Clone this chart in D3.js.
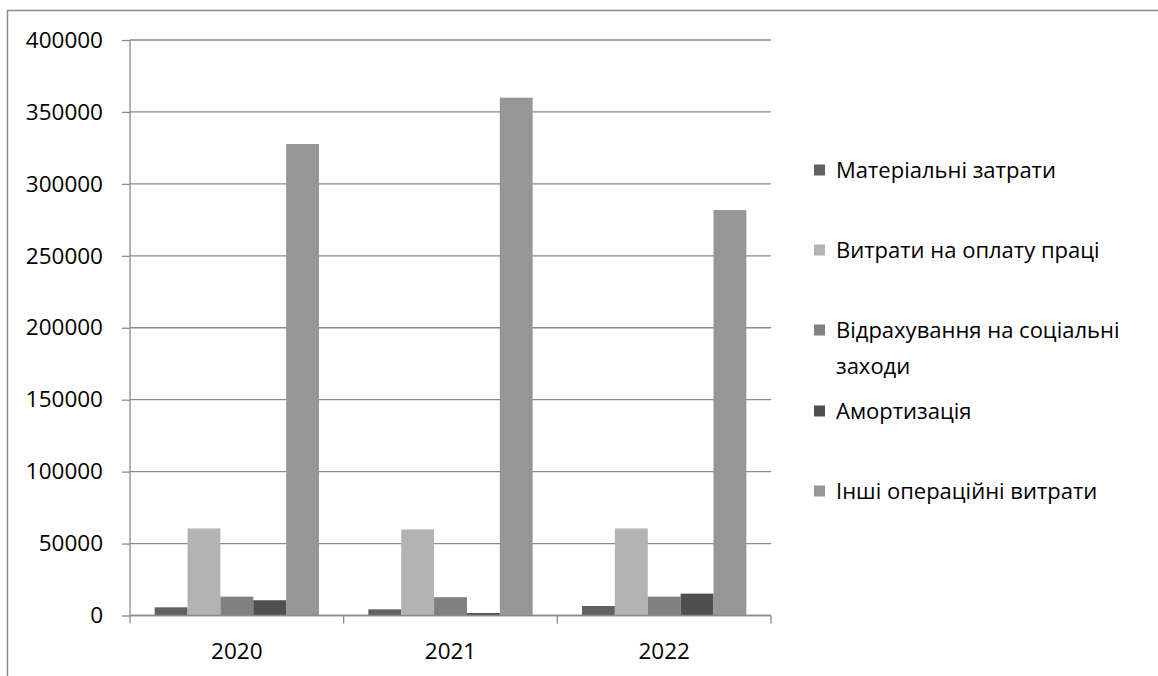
<!DOCTYPE html>
<html>
<head>
<meta charset="utf-8">
<script src="https://cdn.jsdelivr.net/npm/d3@7"></script>
<style>
  html, body { margin: 0; padding: 0; background: #fff; }
  svg { display: block; }
  text { font-family: "Open Sans", "Noto Sans", sans-serif; fill: #000; }
</style>
</head>
<body>
<svg id="chart" width="1158" height="676"></svg>
<script>
// Operating expenses by element, 2020–2022
const years = ["2020", "2021", "2022"];
const seriesNames = [
  "Матеріальні затрати",
  "Витрати на оплату праці",
  "Відрахування на соціальні заходи",
  "Амортизація",
  "Інші операційні витрати"
];
const materialCosts = [5700, 4300, 6600];
const laborCosts = [60500, 59800, 60500];
const socialCharges = [13100, 12700, 13100];
const depreciation = [10600, 1700, 15200];
const otherCosts = [327700, 359900, 281800];
const yTicks = [0, 50000, 100000, 150000, 200000, 250000, 300000, 350000, 400000];

const seriesValues = [materialCosts, laborCosts, socialCharges, depreciation, otherCosts];
const colors = ["#616161", "#b3b3b3", "#808080", "#4f4f4f", "#969696"];

const svg = d3.select("#chart");
const plot = { left: 130, right: 771, top: 40, bottom: 615.5 };
const lineColor = "#8a8a8a";

// outer frame
svg.append("rect")
  .attr("x", 7.5).attr("y", 10.5)
  .attr("width", 1200).attr("height", 700)
  .attr("fill", "none").attr("stroke", "#8c8c8c").attr("stroke-width", 1.5);

const x0 = d3.scaleBand().domain(years).range([plot.left, plot.right]).paddingInner(0).paddingOuter(0);
// gap width of 150% of a bar: bars take 5 / 6.5 of each category
const x1 = d3.scaleBand().domain(d3.range(seriesNames.length))
  .range([0, x0.bandwidth()]).paddingInner(0).paddingOuter(0.75);
const y = d3.scaleLinear().domain([0, 400000]).range([plot.bottom, plot.top]);

// gridlines
svg.append("g").selectAll("line").data(yTicks).join("line")
  .attr("x1", plot.left).attr("x2", plot.right)
  .attr("y1", d => y(d)).attr("y2", d => y(d))
  .attr("stroke", lineColor).attr("stroke-width", 1.3);

// bars
const groups = svg.append("g").selectAll("g").data(years).join("g")
  .attr("transform", d => `translate(${x0(d)},0)`);
groups.selectAll("rect")
  .data((yr, i) => seriesValues.map((vals, s) => ({ s, v: vals[i] })))
  .join("rect")
  .attr("x", d => x1(d.s))
  .attr("width", x1.bandwidth())
  .attr("y", d => y(d.v))
  .attr("height", d => y(0) - y(d.v))
  .attr("fill", d => colors[d.s]);

// y axis
const yAxis = d3.axisLeft(y).tickValues(yTicks).tickSize(8).tickPadding(19).tickFormat(d3.format("d"));
const gy = svg.append("g").attr("transform", `translate(${plot.left},0)`).call(yAxis);
gy.select(".domain").remove();
gy.selectAll(".tick line").attr("stroke", lineColor).attr("stroke-width", 1.3);
gy.selectAll(".tick text").attr("font-size", 22.5).attr("font-family", "'Open Sans', sans-serif").attr("fill", "#000");
svg.append("line")
  .attr("x1", plot.left).attr("x2", plot.left)
  .attr("y1", plot.top).attr("y2", plot.bottom + 8)
  .attr("stroke", lineColor).attr("stroke-width", 1.3);

// x axis
svg.append("line")
  .attr("x1", plot.left).attr("x2", plot.right)
  .attr("y1", plot.bottom).attr("y2", plot.bottom)
  .attr("stroke", lineColor).attr("stroke-width", 1.3);
const boundaries = years.map(d => x0(d) + x0.bandwidth());
svg.append("g").selectAll("line").data(boundaries).join("line")
  .attr("x1", d => d).attr("x2", d => d)
  .attr("y1", plot.bottom).attr("y2", plot.bottom + 8)
  .attr("stroke", lineColor).attr("stroke-width", 1.3);
svg.append("g").selectAll("text").data(years).join("text")
  .attr("x", d => x0(d) + x0.bandwidth() / 2)
  .attr("y", 659)
  .attr("text-anchor", "middle")
  .attr("font-size", 22.5)
  .text(d => d);

// legend
const legendItems = [
  { lines: ["Матеріальні затрати"], cy: 170 },
  { lines: ["Витрати на оплату праці"], cy: 250 },
  { lines: ["Відрахування на соціальні", "заходи"], cy: 330 },
  { lines: ["Амортизація"], cy: 411 },
  { lines: ["Інші операційні витрати"], cy: 491 }
];
const legend = svg.append("g");
legendItems.forEach((item, i) => {
  legend.append("rect")
    .attr("x", 814).attr("y", item.cy - 5.5)
    .attr("width", 11).attr("height", 11)
    .attr("fill", colors[i]);
  item.lines.forEach((ln, j) => {
    legend.append("text")
      .attr("x", 836)
      .attr("y", item.cy + 8 + j * 36)
      .attr("font-size", 22)
      .text(ln);
  });
});
</script>
</body>
</html>
